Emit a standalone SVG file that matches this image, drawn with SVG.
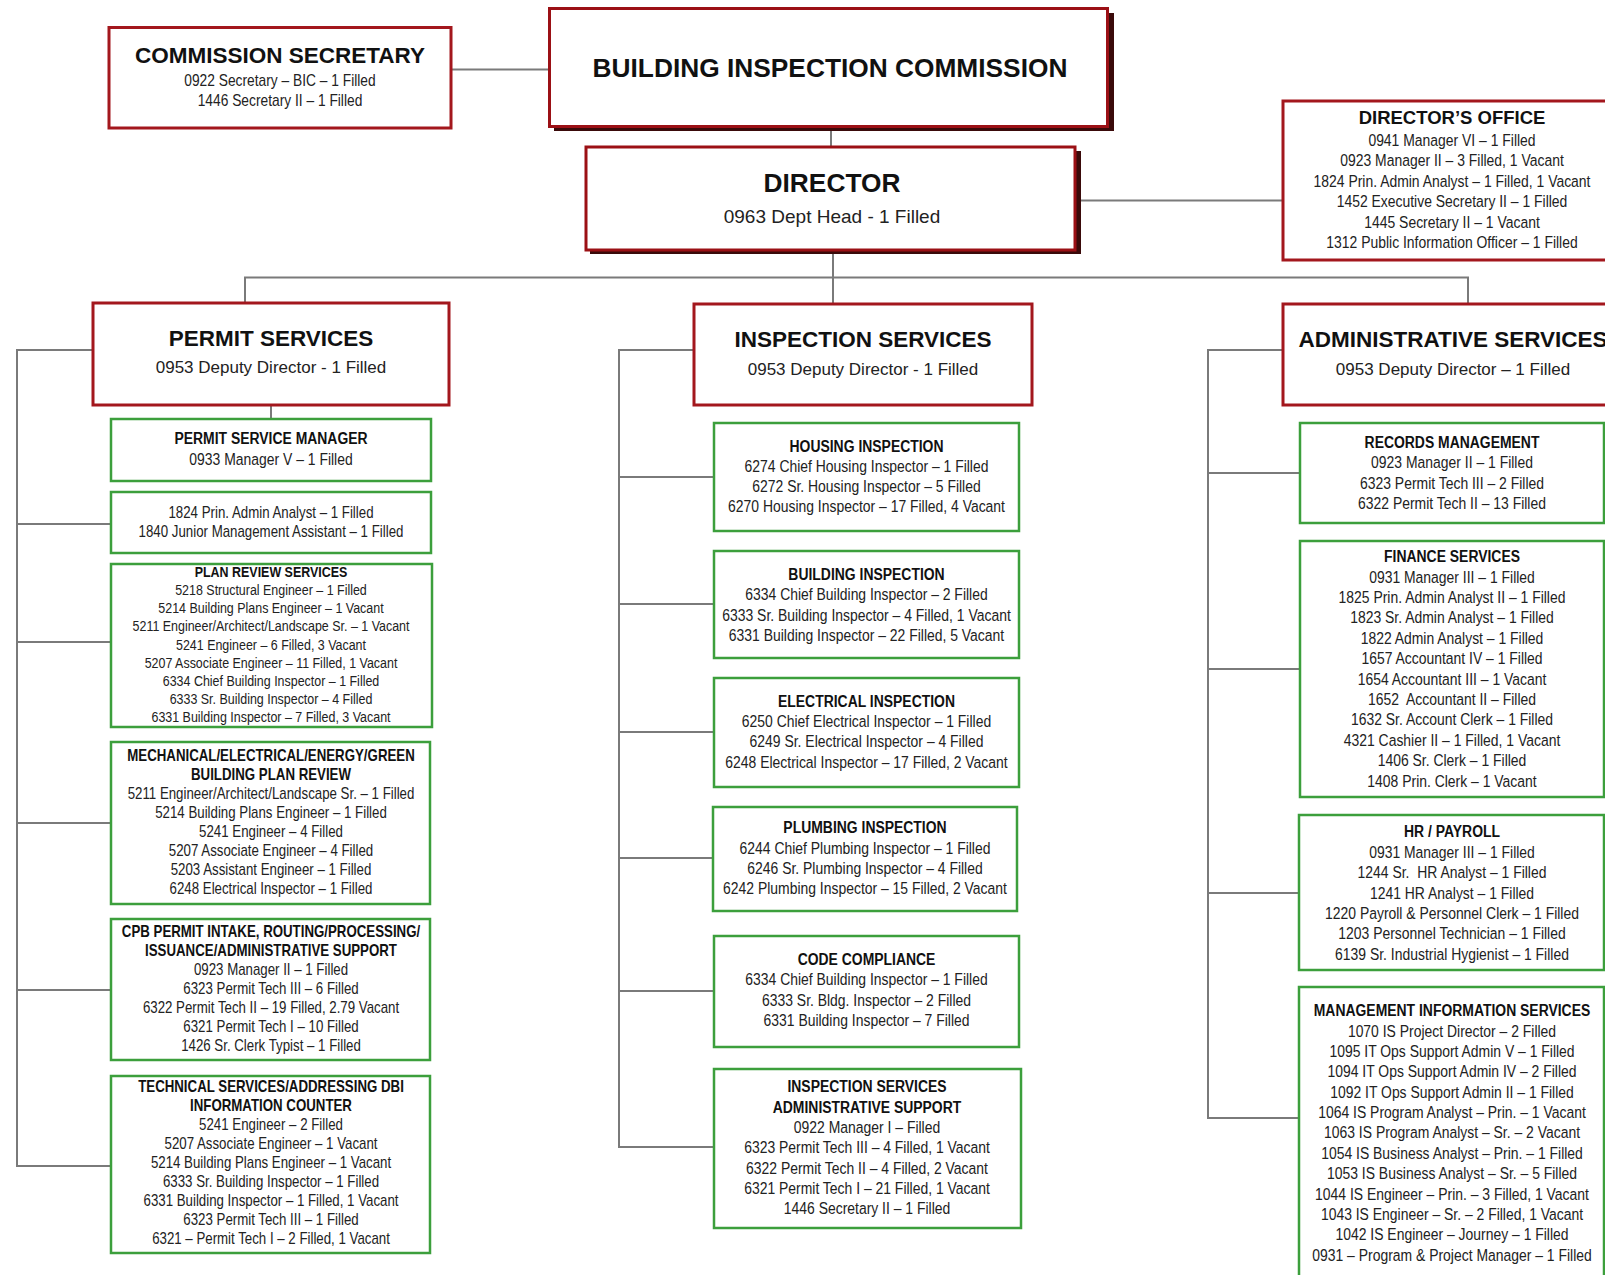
<svg xmlns="http://www.w3.org/2000/svg" width="1605" height="1275" viewBox="0 0 1605 1275">
<style>
text{text-anchor:middle;fill:#1a1a1a}
.big{font-family:'Liberation Sans',Arial,sans-serif;font-weight:bold;font-size:26.3px;fill:#111}
.head{font-family:'Liberation Sans',Arial,sans-serif;font-weight:bold;font-size:22.5px;fill:#111}
.dh{font-family:'Liberation Sans',Arial,sans-serif;font-weight:bold;font-size:18.5px;fill:#111}
.sub{font-family:'Liberation Sans',Arial,sans-serif;font-size:17px;fill:#222}
.dsub{font-family:'Liberation Sans',Arial,sans-serif;font-size:19px;fill:#222}
.n{font-family:'Liberation Sans',Arial,sans-serif;font-size:17px;fill:#222}
.nb{font-family:'Liberation Sans',Arial,sans-serif;font-weight:bold;font-size:17px;fill:#111}
.s15{font-size:15.2px}
.s16{font-size:16.2px}
.s17{font-size:16.8px}
.red{fill:#fff;stroke:#a3171d;stroke-width:3}
.top{fill:#fff;stroke:#9b1015;stroke-width:3}
.shadow{fill:#3a0a0a}
.grn{fill:#fff;stroke:#3c9f3c;stroke-width:2.5}
.conn{fill:none;stroke:#7a7a7a;stroke-width:2}
</style>
<g id="connectors" class="conn">
<path d="M451 69.5H549"/>
<path d="M831 130V147"/>
<path d="M1081 200.5H1283"/>
<path d="M833 251V304"/>
<path d="M245 303V277.5H1468V304"/>
<path d="M271 405V419"/>
<path d="M93 350H17V1166H111M17 524H111M17 642H111M17 823H111M17 990H111"/>
<path d="M694 350H619V1147H714M619 477H714M619 604H714M619 732H714M619 858H714M619 991H714"/>
<path d="M1283 350H1208V1118H1300M1208 473H1300M1208 669H1300M1208 893H1300"/>
</g>
<g id="commission-secretary">
<rect class="red" x="109" y="27.5" width="342" height="100.5"/>
<text class="head" x="280" y="63">COMMISSION SECRETARY</text>
<g transform="translate(280 0) scale(0.82 1)">
<text class="n s17" x="0" y="86">0922 Secretary – BIC – 1 Filled</text>
<text class="n s17" x="0" y="106">1446 Secretary II – 1 Filled</text>
</g>
</g>
<g id="building-inspection-commission">
<rect class="shadow" x="554" y="13" width="560" height="118"/>
<rect class="top" x="549.5" y="8.5" width="558" height="118"/>
<text class="big" x="830" y="77">BUILDING INSPECTION COMMISSION</text>
</g>
<g id="director">
<rect class="shadow" x="590" y="151" width="491" height="103"/>
<rect class="top" x="586" y="147" width="489" height="103"/>
<text class="big" x="832" y="192">DIRECTOR</text>
<text class="dsub" x="832" y="223">0963 Dept Head - 1 Filled</text>
</g>
<g id="directors-office">
<rect class="red" x="1283" y="101" width="340" height="159"/>
<text class="dh" x="1452" y="124">DIRECTOR’S OFFICE</text>
<g transform="translate(1452 0) scale(0.82 1)">
<text class="n" x="0" y="146">0941 Manager VI – 1 Filled</text>
<text class="n" x="0" y="166.4">0923 Manager II – 3 Filled, 1 Vacant</text>
<text class="n" x="0" y="186.8">1824 Prin. Admin Analyst – 1 Filled, 1 Vacant</text>
<text class="n" x="0" y="207.2">1452 Executive Secretary II – 1 Filled</text>
<text class="n" x="0" y="227.6">1445 Secretary II – 1 Vacant</text>
<text class="n" x="0" y="248">1312 Public Information Officer – 1 Filled</text>
</g>
</g>
<g id="permit-services">
<rect class="red" x="93" y="303" width="356" height="102"/>
<text class="head" x="271" y="346">PERMIT SERVICES</text>
<text class="sub" x="271" y="373">0953 Deputy Director - 1 Filled</text>
</g>
<g id="inspection-services">
<rect class="red" x="694" y="304" width="338" height="101"/>
<text class="head" x="863" y="347">INSPECTION SERVICES</text>
<text class="sub" x="863" y="375">0953 Deputy Director - 1 Filled</text>
</g>
<g id="administrative-services">
<rect class="red" x="1283" y="304" width="340" height="101"/>
<text class="head" x="1453" y="347">ADMINISTRATIVE SERVICES</text>
<text class="sub" x="1453" y="375">0953 Deputy Director – 1 Filled</text>
</g>
<g id="permit-service-manager">
<rect class="grn" x="111" y="419" width="320" height="62"/>
<g transform="translate(271 0) scale(0.82 1)">
<text class="nb" x="0" y="444">PERMIT SERVICE MANAGER</text>
<text class="n" x="0" y="465">0933 Manager V – 1 Filled</text>
</g>
</g>
<g id="permit-admin">
<rect class="grn" x="111" y="492" width="320" height="61"/>
<g transform="translate(271 0) scale(0.82 1)">
<text class="n s16" x="0" y="518">1824 Prin. Admin Analyst – 1 Filled</text>
<text class="n s16" x="0" y="537">1840 Junior Management Assistant – 1 Filled</text>
</g>
</g>
<g id="plan-review-services">
<rect class="grn" x="111" y="564" width="321" height="163"/>
<g transform="translate(271 0) scale(0.82 1)">
<text class="nb s15" x="0" y="577">PLAN REVIEW SERVICES</text>
<text class="n s15" x="0" y="595">5218 Structural Engineer – 1 Filled</text>
<text class="n s15" x="0" y="613.2">5214 Building Plans Engineer – 1 Vacant</text>
<text class="n s15" x="0" y="631.4">5211 Engineer/Architect/Landscape Sr. – 1 Vacant</text>
<text class="n s15" x="0" y="649.6">5241 Engineer – 6 Filled, 3 Vacant</text>
<text class="n s15" x="0" y="667.8">5207 Associate Engineer – 11 Filled, 1 Vacant</text>
<text class="n s15" x="0" y="686">6334 Chief Building Inspector – 1 Filled</text>
<text class="n s15" x="0" y="704.2">6333 Sr. Building Inspector – 4 Filled</text>
<text class="n s15" x="0" y="722.4">6331 Building Inspector – 7 Filled, 3 Vacant</text>
</g>
</g>
<g id="mechanical-plan-review">
<rect class="grn" x="111" y="742" width="319" height="162"/>
<g transform="translate(271 0) scale(0.82 1)">
<text class="nb s16" x="0" y="760.6">MECHANICAL/ELECTRICAL/ENERGY/GREEN</text>
<text class="nb s16" x="0" y="779.6">BUILDING PLAN REVIEW</text>
<text class="n s16" x="0" y="798.6">5211 Engineer/Architect/Landscape Sr. – 1 Filled</text>
<text class="n s16" x="0" y="817.6">5214 Building Plans Engineer – 1 Filled</text>
<text class="n s16" x="0" y="836.6">5241 Engineer – 4 Filled</text>
<text class="n s16" x="0" y="855.6">5207 Associate Engineer – 4 Filled</text>
<text class="n s16" x="0" y="874.6">5203 Assistant Engineer – 1 Filled</text>
<text class="n s16" x="0" y="893.6">6248 Electrical Inspector – 1 Filled</text>
</g>
</g>
<g id="cpb-permit-intake">
<rect class="grn" x="111" y="919" width="319" height="141"/>
<g transform="translate(271 0) scale(0.82 1)">
<text class="nb s16" x="0" y="937">CPB PERMIT INTAKE, ROUTING/PROCESSING/</text>
<text class="nb s16" x="0" y="956">ISSUANCE/ADMINISTRATIVE SUPPORT</text>
<text class="n s16" x="0" y="975">0923 Manager II – 1 Filled</text>
<text class="n s16" x="0" y="994">6323 Permit Tech III – 6 Filled</text>
<text class="n s16" x="0" y="1013">6322 Permit Tech II – 19 Filled, 2.79 Vacant</text>
<text class="n s16" x="0" y="1032">6321 Permit Tech I – 10 Filled</text>
<text class="n s16" x="0" y="1051">1426 Sr. Clerk Typist – 1 Filled</text>
</g>
</g>
<g id="technical-services">
<rect class="grn" x="111" y="1076" width="319" height="177"/>
<g transform="translate(271 0) scale(0.82 1)">
<text class="nb s16" x="0" y="1092.5">TECHNICAL SERVICES/ADDRESSING DBI</text>
<text class="nb s16" x="0" y="1111.5">INFORMATION COUNTER</text>
<text class="n s16" x="0" y="1130.5">5241 Engineer – 2 Filled</text>
<text class="n s16" x="0" y="1149.5">5207 Associate Engineer – 1 Vacant</text>
<text class="n s16" x="0" y="1168.5">5214 Building Plans Engineer – 1 Vacant</text>
<text class="n s16" x="0" y="1187.5">6333 Sr. Building Inspector – 1 Filled</text>
<text class="n s16" x="0" y="1206.5">6331 Building Inspector – 1 Filled, 1 Vacant</text>
<text class="n s16" x="0" y="1225.5">6323 Permit Tech III – 1 Filled</text>
<text class="n s16" x="0" y="1244.5">6321 – Permit Tech I – 2 Filled, 1 Vacant</text>
</g>
</g>
<g id="housing-inspection">
<rect class="grn" x="714" y="423" width="305" height="108"/>
<g transform="translate(866.5 0) scale(0.82 1)">
<text class="nb" x="0" y="451.7">HOUSING INSPECTION</text>
<text class="n" x="0" y="471.7">6274 Chief Housing Inspector – 1 Filled</text>
<text class="n" x="0" y="492">6272 Sr. Housing Inspector – 5 Filled</text>
<text class="n" x="0" y="512">6270 Housing Inspector – 17 Filled, 4 Vacant</text>
</g>
</g>
<g id="building-inspection">
<rect class="grn" x="714" y="551" width="305" height="107"/>
<g transform="translate(866.5 0) scale(0.82 1)">
<text class="nb" x="0" y="580">BUILDING INSPECTION</text>
<text class="n" x="0" y="600.5">6334 Chief Building Inspector – 2 Filled</text>
<text class="n" x="0" y="621">6333 Sr. Building Inspector – 4 Filled, 1 Vacant</text>
<text class="n" x="0" y="641.5">6331 Building Inspector – 22 Filled, 5 Vacant</text>
</g>
</g>
<g id="electrical-inspection">
<rect class="grn" x="714" y="678" width="305" height="109"/>
<g transform="translate(866.5 0) scale(0.82 1)">
<text class="nb" x="0" y="706.7">ELECTRICAL INSPECTION</text>
<text class="n" x="0" y="727">6250 Chief Electrical Inspector – 1 Filled</text>
<text class="n" x="0" y="747.3">6249 Sr. Electrical Inspector – 4 Filled</text>
<text class="n" x="0" y="767.6">6248 Electrical Inspector – 17 Filled, 2 Vacant</text>
</g>
</g>
<g id="plumbing-inspection">
<rect class="grn" x="713" y="807" width="304" height="104"/>
<g transform="translate(865 0) scale(0.82 1)">
<text class="nb" x="0" y="833.3">PLUMBING INSPECTION</text>
<text class="n" x="0" y="853.6">6244 Chief Plumbing Inspector – 1 Filled</text>
<text class="n" x="0" y="874">6246 Sr. Plumbing Inspector – 4 Filled</text>
<text class="n" x="0" y="894.3">6242 Plumbing Inspector – 15 Filled, 2 Vacant</text>
</g>
</g>
<g id="code-compliance">
<rect class="grn" x="714" y="936" width="305" height="111"/>
<g transform="translate(866.5 0) scale(0.82 1)">
<text class="nb" x="0" y="965">CODE COMPLIANCE</text>
<text class="n" x="0" y="985.3">6334 Chief Building Inspector – 1 Filled</text>
<text class="n" x="0" y="1005.6">6333 Sr. Bldg. Inspector – 2 Filled</text>
<text class="n" x="0" y="1026">6331 Building Inspector – 7 Filled</text>
</g>
</g>
<g id="inspection-admin-support">
<rect class="grn" x="714" y="1069" width="307" height="159"/>
<g transform="translate(867 0) scale(0.82 1)">
<text class="nb" x="0" y="1092.3">INSPECTION SERVICES</text>
<text class="nb" x="0" y="1112.6">ADMINISTRATIVE SUPPORT</text>
<text class="n" x="0" y="1133">0922 Manager I – Filled</text>
<text class="n" x="0" y="1153.3">6323 Permit Tech III – 4 Filled, 1 Vacant</text>
<text class="n" x="0" y="1173.6">6322 Permit Tech II – 4 Filled, 2 Vacant</text>
<text class="n" x="0" y="1194">6321 Permit Tech I – 21 Filled, 1 Vacant</text>
<text class="n" x="0" y="1214.3">1446 Secretary II – 1 Filled</text>
</g>
</g>
<g id="records-management">
<rect class="grn" x="1300" y="423" width="304" height="100"/>
<g transform="translate(1452 0) scale(0.82 1)">
<text class="nb" x="0" y="447.7">RECORDS MANAGEMENT</text>
<text class="n" x="0" y="468.2">0923 Manager II – 1 Filled</text>
<text class="n" x="0" y="488.6">6323 Permit Tech III – 2 Filled</text>
<text class="n" x="0" y="509">6322 Permit Tech II – 13 Filled</text>
</g>
</g>
<g id="finance-services">
<rect class="grn" x="1300" y="541" width="304" height="256"/>
<g transform="translate(1452 0) scale(0.82 1)">
<text class="nb" x="0" y="562.3">FINANCE SERVICES</text>
<text class="n" x="0" y="582.7">0931 Manager III – 1 Filled</text>
<text class="n" x="0" y="603.1">1825 Prin. Admin Analyst II – 1 Filled</text>
<text class="n" x="0" y="623.5">1823 Sr. Admin Analyst – 1 Filled</text>
<text class="n" x="0" y="643.9">1822 Admin Analyst – 1 Filled</text>
<text class="n" x="0" y="664.3">1657 Accountant IV – 1 Filled</text>
<text class="n" x="0" y="684.7">1654 Accountant III – 1 Vacant</text>
<text class="n" x="0" y="705.1" xml:space="preserve">1652  Accountant II – Filled</text>
<text class="n" x="0" y="725.5">1632 Sr. Account Clerk – 1 Filled</text>
<text class="n" x="0" y="745.9">4321 Cashier II – 1 Filled, 1 Vacant</text>
<text class="n" x="0" y="766.3">1406 Sr. Clerk – 1 Filled</text>
<text class="n" x="0" y="786.7">1408 Prin. Clerk – 1 Vacant</text>
</g>
</g>
<g id="hr-payroll">
<rect class="grn" x="1299" y="815" width="305" height="155"/>
<g transform="translate(1452 0) scale(0.82 1)">
<text class="nb" x="0" y="837.3">HR / PAYROLL</text>
<text class="n" x="0" y="857.7">0931 Manager III – 1 Filled</text>
<text class="n" x="0" y="878.2" xml:space="preserve">1244 Sr.  HR Analyst – 1 Filled</text>
<text class="n" x="0" y="898.6">1241 HR Analyst – 1 Filled</text>
<text class="n" x="0" y="919.1">1220 Payroll &amp; Personnel Clerk – 1 Filled</text>
<text class="n" x="0" y="939.5">1203 Personnel Technician – 1 Filled</text>
<text class="n" x="0" y="960">6139 Sr. Industrial Hygienist – 1 Filled</text>
</g>
</g>
<g id="management-information-services">
<rect class="grn" x="1299" y="987" width="305" height="300"/>
<g transform="translate(1452 0) scale(0.82 1)">
<text class="nb" x="0" y="1016">MANAGEMENT INFORMATION SERVICES</text>
<text class="n" x="0" y="1036.7">1070 IS Project Director – 2 Filled</text>
<text class="n" x="0" y="1057.1">1095 IT Ops Support Admin V – 1 Filled</text>
<text class="n" x="0" y="1077.4">1094 IT Ops Support Admin IV – 2 Filled</text>
<text class="n" x="0" y="1097.8">1092 IT Ops Support Admin II – 1 Filled</text>
<text class="n" x="0" y="1118.1">1064 IS Program Analyst – Prin. – 1 Vacant</text>
<text class="n" x="0" y="1138.5">1063 IS Program Analyst – Sr. – 2 Vacant</text>
<text class="n" x="0" y="1158.9">1054 IS Business Analyst – Prin. – 1 Filled</text>
<text class="n" x="0" y="1179.2">1053 IS Business Analyst – Sr. – 5 Filled</text>
<text class="n" x="0" y="1199.6">1044 IS Engineer – Prin. – 3 Filled, 1 Vacant</text>
<text class="n" x="0" y="1219.9">1043 IS Engineer – Sr. – 2 Filled, 1 Vacant</text>
<text class="n" x="0" y="1240.3">1042 IS Engineer – Journey – 1 Filled</text>
<text class="n" x="0" y="1260.7">0931 – Program &amp; Project Manager – 1 Filled</text>
</g>
</g>
</svg>
